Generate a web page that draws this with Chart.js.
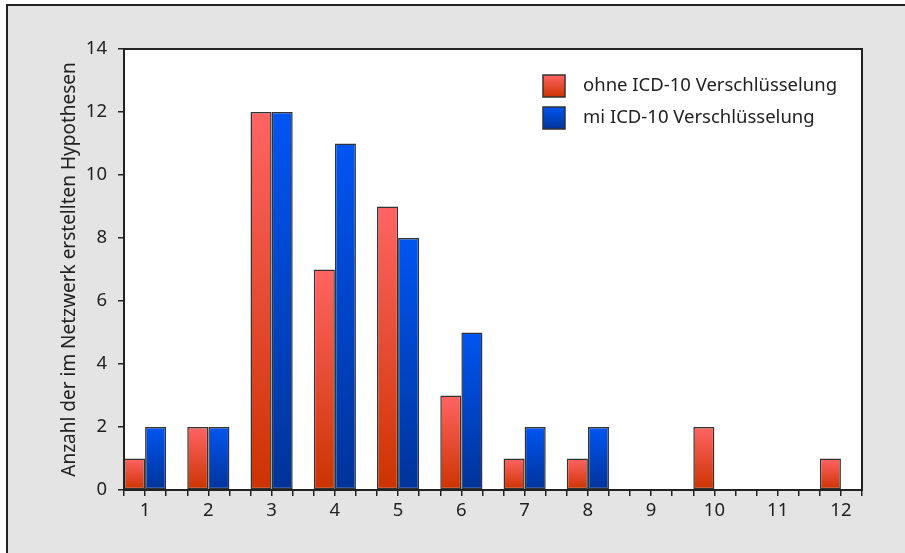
<!DOCTYPE html>
<html>
<head>
<meta charset="utf-8">
<script src="https://cdn.jsdelivr.net/npm/chart.js@4/dist/chart.umd.min.js"></script>
<style>
  html, body { margin: 0; padding: 0; background: #fff; }
  #wrap { position: absolute; left: 0; top: 0; width: 905px; height: 553px; }
</style>
</head>
<body>
<div id="wrap"><canvas id="chart"></canvas></div>
<script>
// =====================================
// DATA
// =====================================
const categories = [1, 2, 3, 4, 5, 6, 7, 8, 9, 10, 11, 12];
const ohneIcd = [1, 2, 12, 7, 9, 3, 1, 1, 0, 2, 0, 1];
const mitIcd = [2, 2, 12, 11, 8, 5, 2, 2, 0, 0, 0, 0];
const seriesLabels = ["ohne ICD-10 Verschlüsselung", "mi ICD-10 Verschlüsselung"];
const yTitle = "Anzahl der im Netzwerk erstellten Hypothesen";
const yMin = 0, yMax = 14, yStep = 2;

// x ticks at every bar edge (one third of a category)
const xMin = categories[0] - 1 / 3;
const xMax = categories[categories.length - 1] + 1 / 3;
const xTicks = [];
for (let v = xMin; v <= xMax + 1e-6; v += 1 / 3) xTicks.push(v);

const INK = "#222";
const FONT = "'Noto Sans', 'DejaVu Sans', sans-serif";
const RED = ["#ff6464", "#cc3300"];
const BLUE = ["#0055f2", "#003399"];

// =====================================
// HELPERS
// =====================================
function barGradient(ctx, colors) {
  const chart = ctx.chart;
  const y = chart.scales.y;
  if (!chart.chartArea || !y || ctx.type !== "data") return colors[1];
  const top = y.getPixelForValue(ctx.parsed.y);
  const bottom = y.getPixelForValue(0);
  if (!isFinite(top) || top === bottom) return colors[1];
  const g = chart.ctx.createLinearGradient(0, top, 0, bottom);
  g.addColorStop(0, colors[0]);
  g.addColorStop(1, colors[1]);
  return g;
}

const isInt = v => Math.abs(v - Math.round(v)) < 1e-6;

// =====================================
// PLUGINS
// =====================================
const framePlugin = {
  id: "frame",
  beforeDraw(chart) {
    const c = chart.ctx;
    c.save();
    c.fillStyle = "#fff";
    c.fillRect(0, 0, chart.width, chart.height);
    c.fillStyle = "#e4e4e4";
    c.fillRect(7, 5, chart.width, chart.height);
    c.strokeStyle = INK;
    c.lineWidth = 2;
    c.beginPath();
    c.moveTo(7, chart.height);
    c.lineTo(7, 5);
    c.lineTo(chart.width, 5);
    c.stroke();
    const a = chart.chartArea;
    c.fillStyle = "#fff";
    c.fillRect(a.left, a.top, a.right - a.left, a.bottom - a.top);
    c.restore();
  },
  afterDatasetsDraw(chart) {
    const c = chart.ctx;
    const a = chart.chartArea;
    c.save();
    c.strokeStyle = INK;
    c.lineWidth = 2;
    c.strokeRect(a.left, a.top, a.right - a.left, a.bottom - a.top);
    c.restore();
  }
};

const legendPlugin = {
  id: "boxLegend",
  afterDraw(chart) {
    const c = chart.ctx;
    const a = chart.chartArea;
    const x = a.right - 319;
    let y = a.top + 26;
    const size = 22;
    const colors = [RED, BLUE];
    c.save();
    c.font = "18.5px " + FONT;
    c.textBaseline = "middle";
    seriesLabels.forEach((label, i) => {
      const g = c.createLinearGradient(0, y, 0, y + size);
      g.addColorStop(0, colors[i][0]);
      g.addColorStop(1, colors[i][1]);
      c.fillStyle = g;
      c.fillRect(x, y, size, size);
      c.strokeStyle = "#333";
      c.lineWidth = 1.5;
      c.strokeRect(x, y, size, size);
      c.fillStyle = INK;
      c.fillText(label, x + 40, y + size / 2);
      y += 32;
    });
    c.restore();
  }
};

// =====================================
// CHART
// =====================================
new Chart(document.getElementById("chart"), {
  type: "bar",
  data: {
    datasets: [
      {
        label: seriesLabels[0],
        data: categories.map((c, i) => ({ x: c, y: ohneIcd[i] })),
        backgroundColor: ctx => barGradient(ctx, RED),
        borderColor: "#333",
        borderWidth: 1.5,
        borderSkipped: false
      },
      {
        label: seriesLabels[1],
        data: categories.map((c, i) => ({ x: c, y: mitIcd[i] })),
        backgroundColor: ctx => barGradient(ctx, BLUE),
        borderColor: "#333",
        borderWidth: 1.5,
        borderSkipped: false
      }
    ]
  },
  options: {
    responsive: true,
    maintainAspectRatio: false,
    animation: false,
    // the bar ruler is the tick spacing (1/3 category), so two slots span 2x that
    categoryPercentage: 2,
    barPercentage: 1,
    layout: { padding: { left: 0, top: 49, right: 43, bottom: 0 } },
    plugins: {
      legend: { display: false },
      tooltip: { enabled: false }
    },
    scales: {
      x: {
        type: "linear",
        offset: false,
        min: xMin,
        max: xMax,
        afterBuildTicks: scale => { scale.ticks = xTicks.map(v => ({ value: v })); },
        afterFit: scale => { scale.height = 63; },
        border: { color: INK, width: 2 },
        grid: { offset: false, drawOnChartArea: false, drawTicks: true, tickLength: 6, color: INK, lineWidth: 1.5 },
        ticks: {
          autoSkip: false,
          maxRotation: 0,
          padding: 4,
          color: INK,
          font: { family: FONT, size: 18.5 },
          callback: v => isInt(v) ? String(Math.round(v)) : ""
        }
      },
      y: {
        min: yMin,
        max: yMax,
        afterFit: scale => { scale.width = 124; },
        border: { color: INK, width: 2 },
        grid: { drawOnChartArea: false, drawTicks: true, tickLength: 6, color: INK, lineWidth: 1.5 },
        ticks: {
          stepSize: yStep,
          padding: 11,
          color: INK,
          font: { family: FONT, size: 18.5 }
        },
        title: {
          display: true,
          text: yTitle,
          color: INK,
          font: { family: FONT, size: 19 },
          padding: { top: 58, bottom: 0 }
        }
      }
    }
  },
  plugins: [framePlugin, legendPlugin]
});
</script>
</body>
</html>
